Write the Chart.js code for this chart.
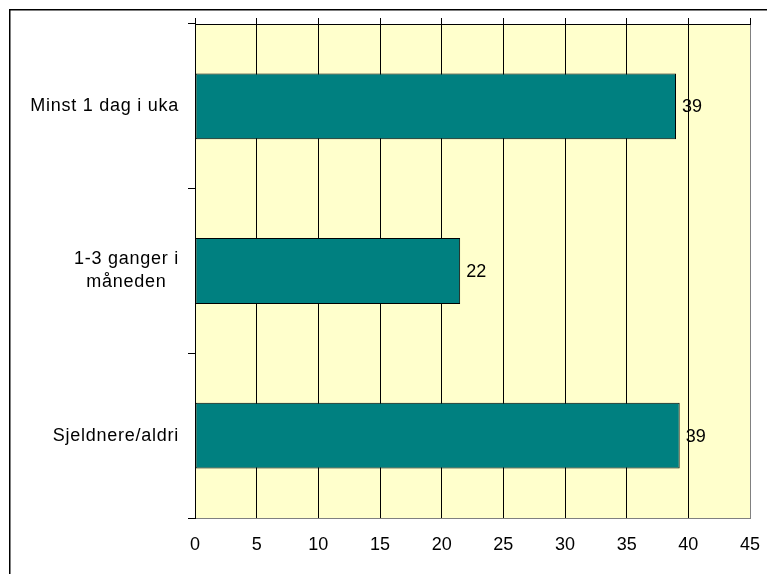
<!DOCTYPE html>
<html>
<head>
<meta charset="utf-8">
<script src="https://cdn.jsdelivr.net/npm/chart.js@4/dist/chart.umd.min.js"></script>
<style>
  body { margin: 0; background: #fff; }
  #wrap { width: 767px; height: 574px; }
</style>
</head>
<body>
<div id="wrap"><canvas id="chart" width="767" height="574"></canvas></div>
<script>
const CATEGORIES = ['Minst 1 dag i uka', ['1-3 ganger i', 'måneden'], 'Sjeldnere/aldri'];
const SHARES = [39.0, 21.5, 39.3];
const X_MIN = 0;
const X_MAX = 45;
const X_STEP = 5;

const FONT = "'Liberation Sans', Arial, sans-serif";
const FONT_SIZE = 18;

// yellow plot area + frame around the whole picture
const backdrop = {
  id: 'backdrop',
  beforeDraw(chart) {
    const {ctx, chartArea: a} = chart;
    ctx.save();
    ctx.fillStyle = '#ffffcc';
    ctx.fillRect(a.left, a.top, a.right - a.left, a.bottom - a.top);
    ctx.restore();
  },
  afterDraw(chart) {
    const ctx = chart.ctx;
    ctx.save();
    ctx.strokeStyle = '#000';
    ctx.lineWidth = 1.5;
    ctx.strokeRect(9.75, 9.75, chart.width + 20, chart.height + 20);
    ctx.restore();
  },
};

// category names: single lines right aligned, wrapped ones centred on themselves
const categoryLabels = {
  id: 'categoryLabels',
  afterDraw(chart) {
    const {ctx, scales: {y}} = chart;
    const right = y.right - 16;
    const lineH = 23;
    ctx.save();
    ctx.font = `${FONT_SIZE}px ${FONT}`;
    ctx.letterSpacing = '0.75px';
    ctx.fillStyle = '#000';
    ctx.textBaseline = 'middle';
    CATEGORIES.forEach((label, i) => {
      const lines = Array.isArray(label) ? label : [label];
      const cy = y.getPixelForValue(i);
      const widest = Math.max(...lines.map(l => ctx.measureText(l).width));
      lines.forEach((line, j) => {
        const ly = cy + (j - (lines.length - 1) / 2) * lineH;
        if (lines.length > 1) {
          ctx.textAlign = 'center';
          ctx.fillText(line, right - widest / 2, ly);
        } else {
          ctx.textAlign = 'right';
          ctx.fillText(line, right, ly);
        }
      });
    });
    ctx.restore();
  },
};

// rounded value right of each bar
const valueLabels = {
  id: 'valueLabels',
  afterDatasetsDraw(chart) {
    const ctx = chart.ctx;
    const meta = chart.getDatasetMeta(0);
    ctx.save();
    ctx.font = `${FONT_SIZE}px ${FONT}`;
    ctx.fillStyle = '#000';
    ctx.textAlign = 'left';
    ctx.textBaseline = 'middle';
    meta.data.forEach((bar, i) => {
      ctx.fillText(String(Math.round(SHARES[i])), bar.x + 6, bar.y + 1);
    });
    ctx.restore();
  },
};

const noSidePadding = scale => {
  scale.paddingLeft = 0;
  scale.paddingRight = 0;
};

new Chart(document.getElementById('chart'), {
  type: 'bar',
  data: {
    labels: CATEGORIES,
    datasets: [{
      data: SHARES,
      backgroundColor: '#008080',
      borderColor: '#000',
      borderWidth: 1,
      borderSkipped: false,
      barPercentage: 0.4,
      categoryPercentage: 1,
    }],
  },
  options: {
    indexAxis: 'y',
    responsive: false,
    animation: false,
    layout: {
      padding: {left: 0, top: 18, right: 17, bottom: 0},
    },
    font: {family: FONT, size: FONT_SIZE},
    scales: {
      x: {
        position: 'bottom',
        min: X_MIN,
        max: X_MAX,
        ticks: {
          stepSize: X_STEP,
          padding: 16,
          color: '#000',
          font: {family: FONT, size: FONT_SIZE},
        },
        grid: {
          drawTicks: false,
          color: ctx => (ctx.tick && ctx.tick.value === X_MAX ? '#808080' : '#000'),
          lineWidth: 1,
        },
        border: {color: '#808080', width: 1},
        afterFit: scale => {
          scale.height = 56;
          noSidePadding(scale);
        },
      },
      xTop: {
        position: 'top',
        min: X_MIN,
        max: X_MAX,
        ticks: {stepSize: X_STEP, display: false},
        grid: {
          drawOnChartArea: false,
          tickLength: 6,
          color: '#000',
        },
        border: {color: '#000', width: 1},
        afterFit: noSidePadding,
      },
      y: {
        type: 'category',
        ticks: {display: false},
        grid: {
          offset: true,
          drawOnChartArea: false,
          tickLength: 7,
          color: '#000',
        },
        border: {color: '#000', width: 1},
        afterFit: scale => { scale.width = 195; },
      },
    },
    plugins: {
      legend: {display: false},
      tooltip: {enabled: false},
    },
  },
  plugins: [backdrop, categoryLabels, valueLabels],
});
</script>
</body>
</html>
